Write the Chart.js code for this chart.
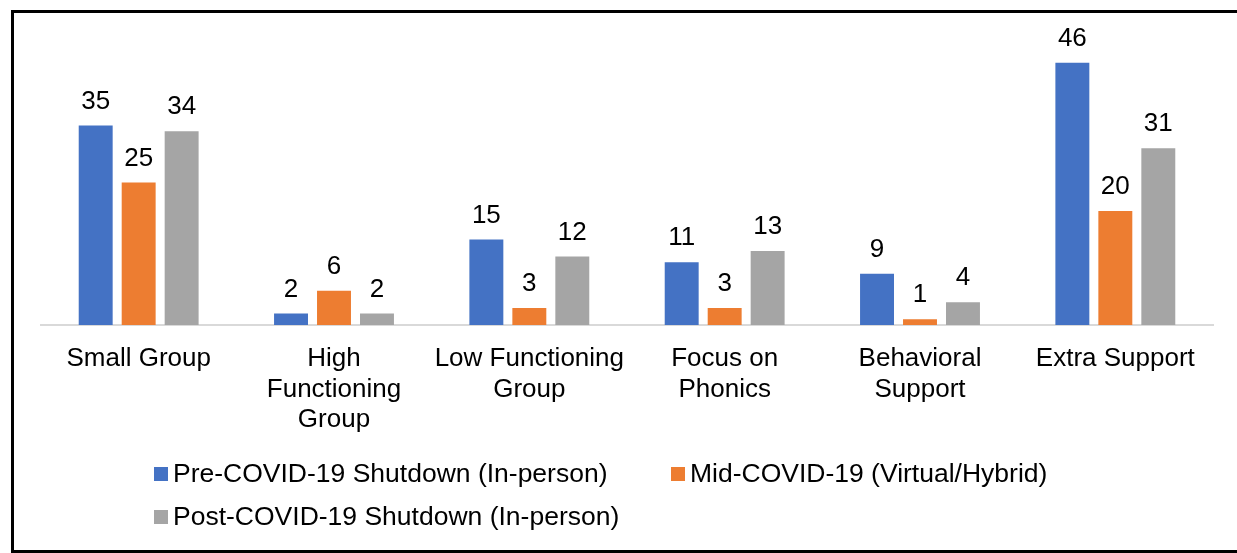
<!DOCTYPE html>
<html>
<head>
<meta charset="utf-8">
<script src="https://cdn.jsdelivr.net/npm/chart.js@4.4.1/dist/chart.umd.min.js"></script>
<style>
  body { margin: 0; background: #fff; }
  #wrap { position: relative; width: 1237px; height: 553px; overflow: hidden; }
  #frame { position: absolute; left: 11px; top: 10px; width: 1300px; height: 543px;
           box-sizing: border-box; border: 3px solid #000; border-right: none; pointer-events: none; }
  #legend { position: absolute; left: 154px; top: 452px; display: grid;
            grid-template-columns: 517px auto; grid-auto-rows: 43px;
            font: 26.5px "Liberation Sans", Arial, sans-serif; color: #000; }
  .item { display: flex; align-items: center; white-space: nowrap; }
  .box { width: 14px; height: 14px; margin-right: 5px; flex: none; }
</style>
</head>
<body>
<div id="wrap">
  <canvas id="chart" width="1237" height="553"></canvas>
  <div id="legend"></div>
  <div id="frame"></div>
</div>
<script>
// categorias (etiquetas en varias lineas como en el original)
const categories = [
  'Small Group',
  ['High', 'Functioning', 'Group'],
  ['Low Functioning', 'Group'],
  ['Focus on', 'Phonics'],
  ['Behavioral', 'Support'],
  'Extra Support'
];
const seriesNames = [
  'Pre-COVID-19 Shutdown (In-person)',
  'Mid-COVID-19 (Virtual/Hybrid)',
  'Post-COVID-19 Shutdown (In-person)'
];
const preCovid = [35, 2, 15, 11, 9, 46];
const midCovid = [25, 6, 3, 3, 1, 20];
const postCovid = [34, 2, 12, 13, 4, 31];
const colors = ['#4472C4', '#ED7D31', '#A5A5A5'];

const FONT = '"Liberation Sans", Arial, sans-serif';

// etiquetas de valor encima de cada barra
const valueLabels = {
  id: 'valueLabels',
  afterDatasetsDraw(chart) {
    const ctx = chart.ctx;
    ctx.save();
    ctx.font = '26px ' + FONT;
    ctx.fillStyle = '#000';
    ctx.textAlign = 'center';
    ctx.textBaseline = 'alphabetic';
    chart.data.datasets.forEach((ds, i) => {
      chart.getDatasetMeta(i).data.forEach((bar, j) => {
        ctx.fillText(ds.data[j], bar.x, bar.y - 17);
      });
    });
    ctx.restore();
  }
};

const allSeries = [preCovid, midCovid, postCovid];

var chart = new Chart(document.getElementById('chart').getContext('2d'), {
  type: 'bar',
  data: {
    labels: categories,
    datasets: allSeries.map((values, i) => ({
      label: seriesNames[i],
      data: values,
      backgroundColor: colors[i],
      categoryPercentage: 0.66,
      barPercentage: 0.79
    }))
  },
  options: {
    responsive: false,
    animation: false,
    layout: { padding: { top: 40, left: 41, right: 24, bottom: 0 } },
    plugins: { legend: { display: false }, tooltip: { enabled: false } },
    scales: {
      x: {
        grid: { display: false, drawTicks: false },
        border: { display: true, color: '#D9D9D9', width: 2 },
        ticks: {
          color: '#000',
          font: { family: FONT, size: 26, lineHeight: 1.17 },
          padding: 19,
          maxRotation: 0,
          autoSkip: false
        },
        afterFit(scale) { scale.height = 228; }
      },
      y: { display: false, min: 0, max: 50 }
    }
  },
  plugins: [valueLabels]
});

// leyenda abajo, dos columnas
const legend = document.getElementById('legend');
seriesNames.forEach((name, i) => {
  const item = document.createElement('div');
  item.className = 'item';
  const box = document.createElement('span');
  box.className = 'box';
  box.style.background = colors[i];
  item.appendChild(box);
  item.appendChild(document.createTextNode(name));
  legend.appendChild(item);
});
</script>
</body>
</html>
